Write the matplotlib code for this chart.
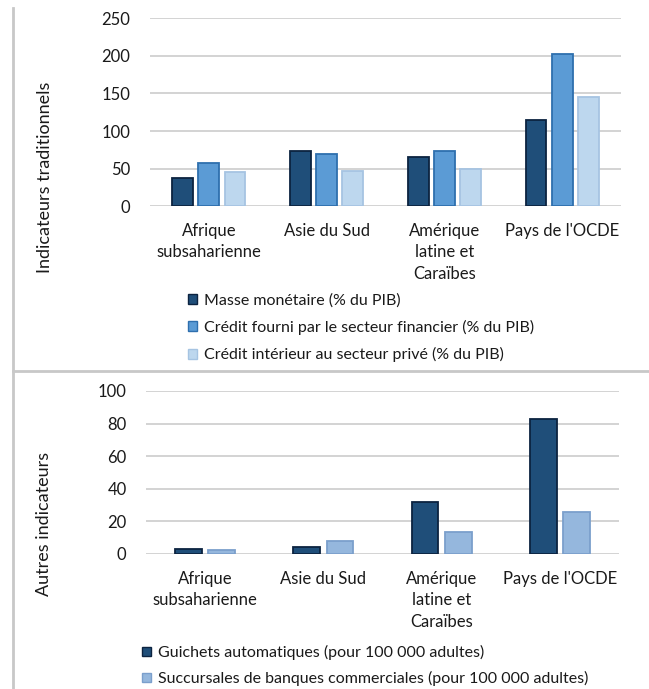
import matplotlib
matplotlib.use("Agg")
import matplotlib.pyplot as plt
import numpy as np
from matplotlib.lines import Line2D
from matplotlib.patches import Patch

plt.rcParams['font.family'] = ['Lato', 'DejaVu Sans']

regions = ["Afrique\nsubsaharienne", "Asie du Sud", "Amérique\nlatine et\nCaraïbes", "Pays de l'OCDE"]

# Indicateurs traditionnels (% du PIB)
masse_monetaire = [37, 73, 66, 115]
credit_financier = [57, 70, 74, 203]
credit_prive = [45, 47, 49, 145]
trad_labels = ["Masse monétaire (% du PIB)",
               "Crédit fourni par le secteur financier (% du PIB)",
               "Crédit intérieur au secteur privé (% du PIB)"]

# Autres indicateurs (pour 100 000 adultes)
guichets = [3.0, 4.3, 31.7, 83]
succursales = [2.5, 8, 13.3, 25.6]
autres_labels = ["Guichets automatiques (pour 100 000 adultes)",
                 "Succursales de banques commerciales (pour 100 000 adultes)"]

top_ticks = [0, 50, 100, 150, 200, 250]
bottom_ticks = [0, 20, 40, 60, 80, 100]

DARK, DARK_EDGE = "#1f4e79", "#0c2340"
MID, MID_EDGE = "#5b9bd5", "#2e6fae"
LIGHT, LIGHT_EDGE = "#bdd7ee", "#a6c4e2"
PALE, PALE_EDGE = "#95b7dd", "#7b9fcc"
GRID = "#d0d0d0"
TEXT = "#1a1a1a"

fig = plt.figure(figsize=(6.49, 6.89), dpi=100)

def style_axes(ax, ticks):
    ax.set_ylim(ticks[0], ticks[-1])
    ax.set_yticks(ticks)
    ax.yaxis.grid(True, color=GRID, linewidth=1.3)
    ax.set_axisbelow(True)
    for s in ax.spines.values():
        s.set_visible(False)
    ax.tick_params(axis='both', length=0, labelsize=12, colors=TEXT)
    ax.tick_params(axis='y', pad=14)
    ax.tick_params(axis='x', pad=12)
    ax.set_xlim(-0.5, len(regions) - 0.5)
    ax.set_xticks(np.arange(len(regions)))
    ax.set_xticklabels(regions, linespacing=1.42)

x = np.arange(len(regions))

# --- Top panel ---
ax1 = fig.add_axes([150 / 649, 1 - 206.3 / 689, 471 / 649, 188.1 / 689])
style_axes(ax1, top_ticks)
w1, step1 = 0.178, 0.222
series1 = [(masse_monetaire, DARK, DARK_EDGE),
           (credit_financier, MID, MID_EDGE),
           (credit_prive, LIGHT, LIGHT_EDGE)]
for i, (vals, fc, ec) in enumerate(series1):
    ax1.bar(x + (i - 1) * step1, vals, width=w1, color=fc, edgecolor=ec, linewidth=1.3, zorder=3)
ax1.set_ylabel("Indicateurs traditionnels", fontsize=13, color=TEXT)
ax1.yaxis.set_label_coords(-0.207, 0.153)

handles1 = [Patch(facecolor=fc, edgecolor=ec, linewidth=1.0) for _, fc, ec in series1]
fig.legend(handles1, trad_labels, loc='upper left', bbox_to_anchor=(188 / 649, 1 - 293 / 689),
           frameon=False, fontsize=11.5, handlelength=0.55, handleheight=0.55,
           handletextpad=0.45, labelspacing=0.78, borderaxespad=0, borderpad=0,
           labelcolor=TEXT)

# --- Bottom panel ---
ax2 = fig.add_axes([146 / 649, 1 - 554 / 689, 473 / 649, 163 / 689])
style_axes(ax2, bottom_ticks)
w2, step2 = 0.226, 0.282
series2 = [(guichets, DARK, DARK_EDGE), (succursales, PALE, PALE_EDGE)]
for i, (vals, fc, ec) in enumerate(series2):
    ax2.bar(x + (i - 0.5) * step2, vals, width=w2, color=fc, edgecolor=ec, linewidth=1.3, zorder=3)
ax2.set_ylabel("Autres indicateurs", fontsize=13, color=TEXT)
ax2.yaxis.set_label_coords(-0.199, 0.187)

handles2 = [Patch(facecolor=fc, edgecolor=ec, linewidth=1.0) for _, fc, ec in series2]
fig.legend(handles2, autres_labels, loc='upper left', bbox_to_anchor=(142 / 649, 1 - 645 / 689),
           frameon=False, fontsize=11.5, handlelength=0.55, handleheight=0.55,
           handletextpad=0.45, labelspacing=0.68, borderaxespad=0, borderpad=0,
           labelcolor=TEXT)

# Panel frame lines
BORDER = "#c8c8c8"
fig.add_artist(Line2D([12.5 / 649, 12.5 / 649], [0, 1 - 8 / 689], transform=fig.transFigure,
                      color=BORDER, linewidth=2))
fig.add_artist(Line2D([12.5 / 649, 1], [1 - 371.5 / 689, 1 - 371.5 / 689], transform=fig.transFigure,
                      color=BORDER, linewidth=2))

fig.savefig("out.png", dpi=100, facecolor="white")
